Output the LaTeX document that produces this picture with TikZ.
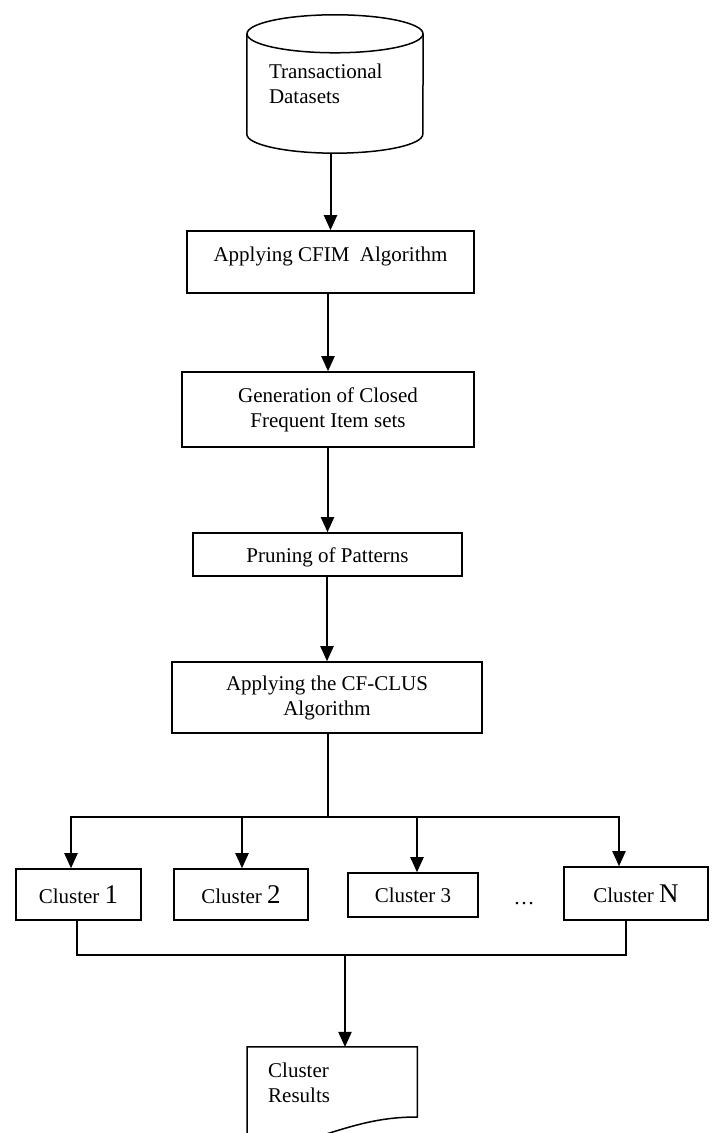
\documentclass[tikz,border=0pt]{standalone}
\usepackage{fontspec}
\setmainfont{Liberation Serif}
\usetikzlibrary{arrows.meta,positioning}

\newcommand{\boxfont}{\fontsize{21}{25}\selectfont}
\newcommand{\bigdigit}{\fontsize{27}{28}\selectfont}

\tikzset{
  proc/.style={draw, line width=1.5pt, inner sep=0pt, align=center, font=\boxfont},
  arr/.style={line width=2pt, -{Triangle[width=13pt,length=15pt]}},
  mergeline/.style={line width=1.4pt},
}

\begin{document}
\begin{tikzpicture}[x=1pt,y=1pt]
  \clip (0,0) rectangle (712,1133);

  % data store
  \node[inner xsep=22pt, inner ysep=0pt, minimum width=176pt, minimum height=138pt,
        text width=132pt, align=left, font=\boxfont] (data) at (335,1049) {Transactional\\Datasets};
  \draw[line width=1.5pt] ([yshift=-19pt]data.north) ellipse [x radius=88, y radius=19];
  \draw[line width=1.5pt] ([yshift=-19pt]data.north west) -- ([yshift=19pt]data.south west)
    arc [start angle=180, end angle=360, x radius=88, y radius=19] -- ([yshift=-19pt]data.north east);

  % main steps
  \node[proc, minimum width=287pt, minimum height=62pt, text height=10pt, text depth=10pt] (cfim) at (330.5,871) {Applying CFIM~ Algorithm};
  \node[proc, minimum width=292pt, minimum height=75pt] (closed) at (328,723.5) {Generation of Closed\\Frequent Item sets};
  \node[proc, minimum width=269pt, minimum height=43pt, text height=17pt, text depth=0pt] (prune) at (327.5,578.5) {Pruning of Patterns};
  \node[proc, minimum width=310pt, minimum height=71pt] (clus) at (327,435.5) {Applying the CF-CLUS\\Algorithm};

  % clusters
  \node[proc, minimum width=125pt, minimum height=51pt] (c1) at (78.5,238.5) {Cluster {\bigdigit 1}};
  \node[proc, minimum width=134pt, minimum height=51pt] (c2) at (241,238.5) {Cluster {\bigdigit 2}};
  \node[proc, minimum width=130pt, minimum height=44pt] (c3) at (413,238) {Cluster 3};
  \node[font=\boxfont, inner sep=0pt, anchor=base] (dots) at (524,228) {\dots};
  \node[proc, minimum width=144pt, minimum height=53pt] (cN) at (636,239.5) {Cluster {\bigdigit N}};

  % result
  \node[anchor=north west, inner xsep=21pt, inner ysep=16pt, text width=128pt,
        align=left, font=\boxfont] (res) at (247,86) {Cluster\\Results};
  \draw[line width=1.5pt] (247,-5) -- (res.north west) -- (res.north east) -- ([yshift=-70pt]res.north east)
    .. controls (380,16) and (355,8) .. (320,-3);

  % arrows
  \draw[arr] (cfim.north |- data.south) -- (cfim.north);
  \draw[arr] (closed.north |- cfim.south) -- (closed.north);
  \draw[arr] (prune.north |- closed.south) -- (prune.north);
  \draw[arr] (clus.north |- prune.south) -- (clus.north);

  % branch to clusters
  \coordinate (split) at (328,316);
  \coordinate (b1) at (71,316);
  \coordinate (b2) at (242,316);
  \coordinate (b3) at (417,316);
  \coordinate (bN) at (619,316);
  \draw[line width=1.5pt] (split |- clus.south) -- (split);
  \draw[line width=1.5pt, line cap=rect] (b1) -- (bN);
  \foreach \b/\c in {b1/c1, b2/c2, b3/c3, bN/cN}
    \draw[arr] (\b) -- (\b |- \c.north);

  % merge of clusters
  \coordinate (m1) at (77,178);
  \coordinate (mN) at (626,178);
  \coordinate (mid) at (345,178);
  \draw[mergeline] ([yshift=2pt]m1 |- c1.south) -- (m1) -- (mN) -- (mN |- cN.south);
  \draw[arr] (mid) -- (mid |- res.north);
\end{tikzpicture}
\end{document}
